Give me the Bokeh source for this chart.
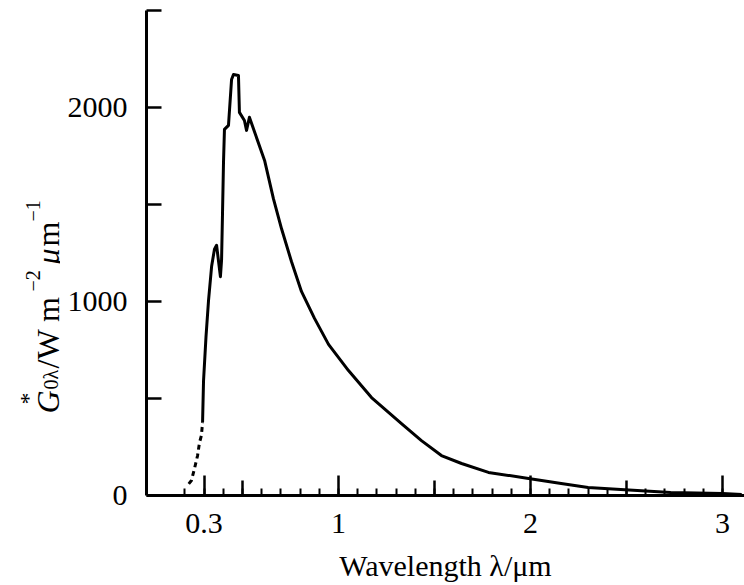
import math
from bokeh.plotting import figure
from bokeh.models import FixedTicker, Range1d
from bokeh.layouts import row
from bokeh.core.properties import value
from bokeh.embed import file_html
from bokeh.resources import INLINE

# ---------------- data ----------------
# extrapolated (dashed) short-wave part
wl_dashed = [0.22, 0.234, 0.25, 0.266, 0.276, 0.286, 0.292]
g_dashed = [60, 77, 139, 206, 273, 309, 376]

# measured (solid) part
wl_solid = [0.292, 0.297, 0.31, 0.323, 0.339, 0.354, 0.365, 0.385, 0.391, 0.396,
            0.401, 0.406, 0.427, 0.443, 0.453, 0.479, 0.484, 0.51, 0.521, 0.536,
            0.557, 0.615, 0.661, 0.703, 0.755, 0.807, 0.875, 0.948, 1.052, 1.172,
            1.328, 1.432, 1.536, 1.641, 1.781, 1.99, 2.16, 2.30, 2.47, 2.73,
            3.0, 3.1]
g_solid = [376, 590, 820, 1005, 1180, 1270, 1290, 1128, 1215, 1460,
           1715, 1887, 1908, 2144, 2170, 2165, 1975, 1933, 1882, 1950,
           1890, 1727, 1530, 1376, 1206, 1052, 913, 779, 644, 505,
           370, 283, 206, 165, 119, 88, 62, 41, 31, 15,
           10, 5]

x_major_ticks = [0.3, 1, 2, 3]
x_medium_ticks = [0.5, 1.5, 2.5]
x_minor_ticks = [round(0.2 + 0.1 * i, 1) for i in range(29)]
y_ticks = [0, 500, 1000, 1500, 2000, 2500]
y_tick_labels = {0: "0", 500: "", 1000: "1000", 1500: "", 2000: "2000", 2500: ""}

# ---------------- geometry ----------------
TOTAL_W, H = 744, 585
LW = 60                      # strip holding the rotated y-axis title
W = TOTAL_W - LW
LEFT, TOP = 86, 10
FRAME_BOTTOM = 495
BOTTOM = H - FRAME_BOTTOM
X0 = 0.0
X1 = (W - LEFT) / 192.0
Y0, Y1 = 0, 2500
FONT = "Liberation Serif"

p = figure(width=W, height=H, output_backend="svg", toolbar_location=None,
           x_range=Range1d(X0, X1), y_range=Range1d(Y0, Y1),
           min_border_left=LEFT, min_border_right=0, min_border_top=TOP,
           min_border_bottom=BOTTOM)
p.outline_line_color = None
p.xgrid.visible = False
p.ygrid.visible = False
p.background_fill_color = "white"
p.border_fill_color = "white"

# x axis
xa = p.xaxis[0]
xa.ticker = FixedTicker(ticks=x_major_ticks, minor_ticks=x_minor_ticks)
xa.axis_line_width = 3
xa.axis_line_color = "black"
xa.major_tick_in = 20
xa.major_tick_out = 0
xa.minor_tick_in = 7
xa.minor_tick_out = 0
xa.major_tick_line_width = 2.5
xa.minor_tick_line_width = 2
xa.major_tick_line_color = "black"
xa.minor_tick_line_color = "black"
xa.major_label_text_font = FONT
xa.major_label_text_font_size = "30px"
xa.major_label_text_color = "black"
xa.major_label_standoff = 18
xa.major_label_overrides = {0.3: "0.3", 1: "1", 2: "2", 3: "3"}
xa.axis_label = "Wavelength λ/μm"
xa.axis_label_text_font = FONT
xa.axis_label_text_font_size = "30px"
xa.axis_label_text_font_style = "normal"
xa.axis_label_text_color = "black"
xa.axis_label_standoff = 13

# y axis
ya = p.yaxis[0]
ya.ticker = FixedTicker(ticks=y_ticks, minor_ticks=[])
ya.axis_line_width = 3
ya.axis_line_color = "black"
ya.major_tick_in = 15
ya.major_tick_out = 0
ya.minor_tick_in = 0
ya.minor_tick_out = 0
ya.major_tick_line_width = 2.5
ya.major_tick_line_color = "black"
ya.major_label_text_font = FONT
ya.major_label_text_font_size = "30px"
ya.major_label_text_color = "black"
ya.major_label_standoff = 19
ya.major_label_overrides = y_tick_labels

# medium ticks on the x axis (0.5, 1.5, 2.5)
tick_len = 15 * (Y1 - Y0) / (FRAME_BOTTOM - TOP)
p.segment(x0=x_medium_ticks, y0=[0] * len(x_medium_ticks),
          x1=x_medium_ticks, y1=[tick_len] * len(x_medium_ticks),
          line_color="black", line_width=2.5)

# curve
p.line(wl_dashed, g_dashed, line_color="black", line_width=3, line_dash="5 4")
p.line(wl_solid, g_solid, line_color="black", line_width=3, line_join="round")

# ---------------- strip with the rotated y-axis title ----------------
# its frame is aligned with the main frame (rows TOP .. FRAME_BOTTOM), so the
# y range is chosen so that a data y equals H - (pixel row from the top)
lab = figure(width=LW, height=H, output_backend="svg", toolbar_location=None,
             x_range=Range1d(0, LW), y_range=Range1d(H - FRAME_BOTTOM, H - TOP),
             x_axis_type=None, y_axis_type=None,
             min_border_left=0, min_border_right=0, min_border_top=TOP,
             min_border_bottom=BOTTOM)
lab.outline_line_color = None
lab.xgrid.visible = False
lab.ygrid.visible = False
lab.background_fill_color = "white"
lab.border_fill_color = "white"


def piece(text, sx, sy, size, style="normal"):
    # sx, sy: pixel position (from top-left) of the start of the baseline
    lab.text(x=[sx], y=[H - sy], text=[text], angle=math.pi / 2,
             text_font=value(FONT), text_font_size=size,
             text_font_style=style, text_color="black",
             text_align="left", text_baseline="alphabetic")


piece("G", 47, 413, "32px", "italic")
piece("*", 27, 404, "24px")
piece("0λ", 50, 389, "20px")
piece("/W m", 47, 368, "32px")
piece("−2", 32, 291, "20px")
piece("μ", 47, 264, "32px", "italic")
piece("m", 47, 246, "32px")
piece("−1", 32, 221, "20px")

layout = row(lab, p)
open("out.html", "w").write(file_html(layout, INLINE))
